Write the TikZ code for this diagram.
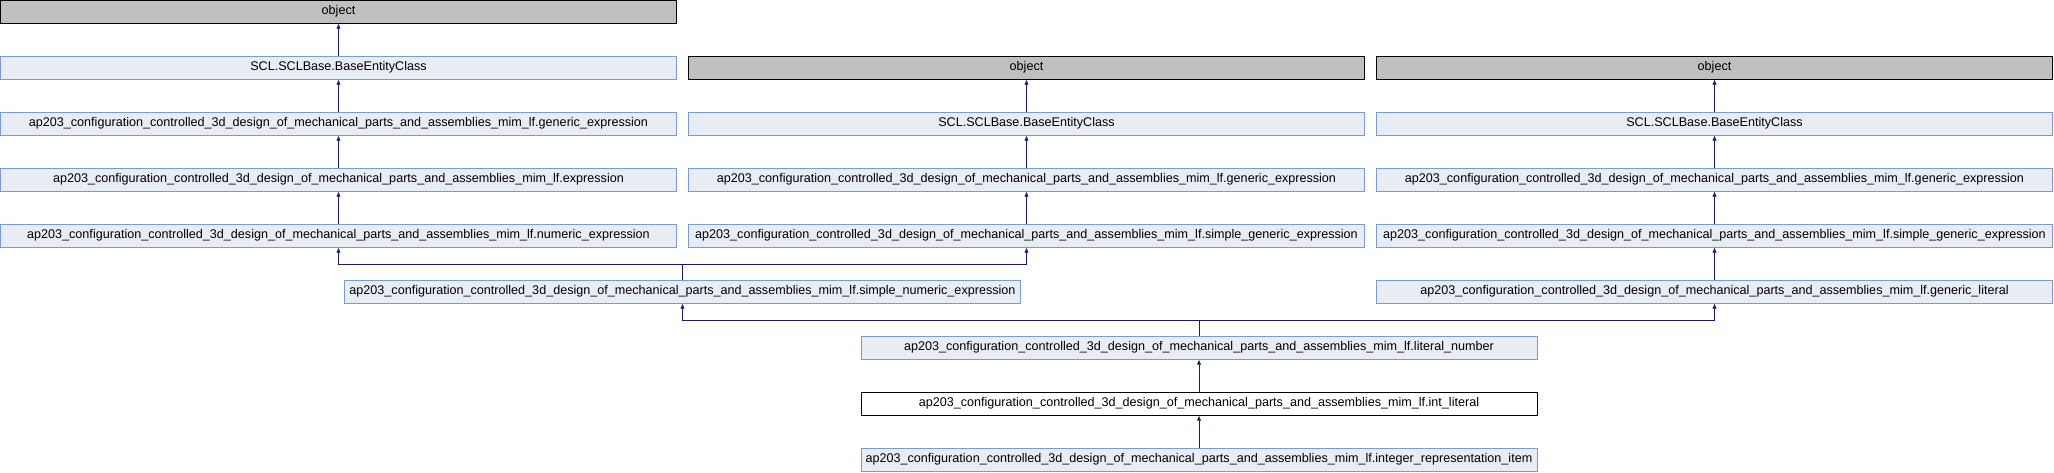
\documentclass[tikz,border=0pt]{standalone}
\usepackage{fontspec}
\setmainfont{Liberation Sans}
\usetikzlibrary{arrows.meta}
\definecolor{boxfill}{HTML}{E8ECF5}
\definecolor{boxline}{HTML}{7B9BD0}
\definecolor{objfill}{HTML}{BFBFBF}
\definecolor{edgecol}{HTML}{191970}
\tikzset{
  cls/.style={draw=boxline, fill=boxfill, line width=1pt, minimum width=676pt, minimum height=23pt, inner sep=0pt, font=\fontsize{12.6}{15}\selectfont},
  objbox/.style={cls, draw=black, fill=objfill},
  curbox/.style={cls, draw=black, fill=white},
  arr/.style={draw=edgecol, line width=1pt, -{Latex[length=5pt,width=4.5pt]}},
}
\begin{document}
\begin{tikzpicture}[x=1pt,y=-1pt]
\useasboundingbox (0,0) rectangle (2054,472);
% column 1
\node[objbox] (c1o) at (338.5,11.5) {object};
\node[cls] (c1s) at (338.5,67.5) {SCL.SCLBase.BaseEntityClass};
\node[cls] (c1g) at (338.5,123.5) {ap203\_configuration\_controlled\_3d\_design\_of\_mechanical\_parts\_and\_assemblies\_mim\_lf.generic\_expression};
\node[cls] (c1e) at (338.5,179.5) {ap203\_configuration\_controlled\_3d\_design\_of\_mechanical\_parts\_and\_assemblies\_mim\_lf.expression};
\node[cls] (c1n) at (338.5,235.5) {ap203\_configuration\_controlled\_3d\_design\_of\_mechanical\_parts\_and\_assemblies\_mim\_lf.numeric\_expression};
% column 2
\node[objbox] (c2o) at (1026.5,67.5) {object};
\node[cls] (c2s) at (1026.5,123.5) {SCL.SCLBase.BaseEntityClass};
\node[cls] (c2g) at (1026.5,179.5) {ap203\_configuration\_controlled\_3d\_design\_of\_mechanical\_parts\_and\_assemblies\_mim\_lf.generic\_expression};
\node[cls] (c2sg) at (1026.5,235.5) {ap203\_configuration\_controlled\_3d\_design\_of\_mechanical\_parts\_and\_assemblies\_mim\_lf.simple\_generic\_expression};
% column 3
\node[objbox] (c3o) at (1714.5,67.5) {object};
\node[cls] (c3s) at (1714.5,123.5) {SCL.SCLBase.BaseEntityClass};
\node[cls] (c3g) at (1714.5,179.5) {ap203\_configuration\_controlled\_3d\_design\_of\_mechanical\_parts\_and\_assemblies\_mim\_lf.generic\_expression};
\node[cls] (c3sg) at (1714.5,235.5) {ap203\_configuration\_controlled\_3d\_design\_of\_mechanical\_parts\_and\_assemblies\_mim\_lf.simple\_generic\_expression};
\node[cls] (c3gl) at (1714.5,291.5) {ap203\_configuration\_controlled\_3d\_design\_of\_mechanical\_parts\_and\_assemblies\_mim\_lf.generic\_literal};
% middle
\node[cls] (sn) at (682.5,291.5) {ap203\_configuration\_controlled\_3d\_design\_of\_mechanical\_parts\_and\_assemblies\_mim\_lf.simple\_numeric\_expression};
\node[cls] (ln) at (1199,347.5) {ap203\_configuration\_controlled\_3d\_design\_of\_mechanical\_parts\_and\_assemblies\_mim\_lf.literal\_number};
\node[curbox] (il) at (1199,403.5) {ap203\_configuration\_controlled\_3d\_design\_of\_mechanical\_parts\_and\_assemblies\_mim\_lf.int\_literal};
\node[cls] (ir) at (1199,459.5) {ap203\_configuration\_controlled\_3d\_design\_of\_mechanical\_parts\_and\_assemblies\_mim\_lf.integer\_representation\_item};
% junctions
\coordinate (j1) at (682.5,264);
\coordinate (j2) at (1199,320);
% edges
\draw[arr] (c1s) -- (c1o);
\draw[arr] (c1g) -- (c1s);
\draw[arr] (c1e) -- (c1g);
\draw[arr] (c1n) -- (c1e);
\draw[arr] (c2s) -- (c2o);
\draw[arr] (c2g) -- (c2s);
\draw[arr] (c2sg) -- (c2g);
\draw[arr] (c3s) -- (c3o);
\draw[arr] (c3g) -- (c3s);
\draw[arr] (c3sg) -- (c3g);
\draw[arr] (c3gl) -- (c3sg);
\draw[arr] (sn.north) -- (j1) -| (c1n.south);
\draw[arr] (j1) -| (c2sg.south);
\draw[arr] (ln.north) -- (j2) -| (sn.south);
\draw[arr] (j2) -| (c3gl.south);
\draw[arr] (il) -- (ln);
\draw[arr] (ir) -- (il);
\end{tikzpicture}
\end{document}
